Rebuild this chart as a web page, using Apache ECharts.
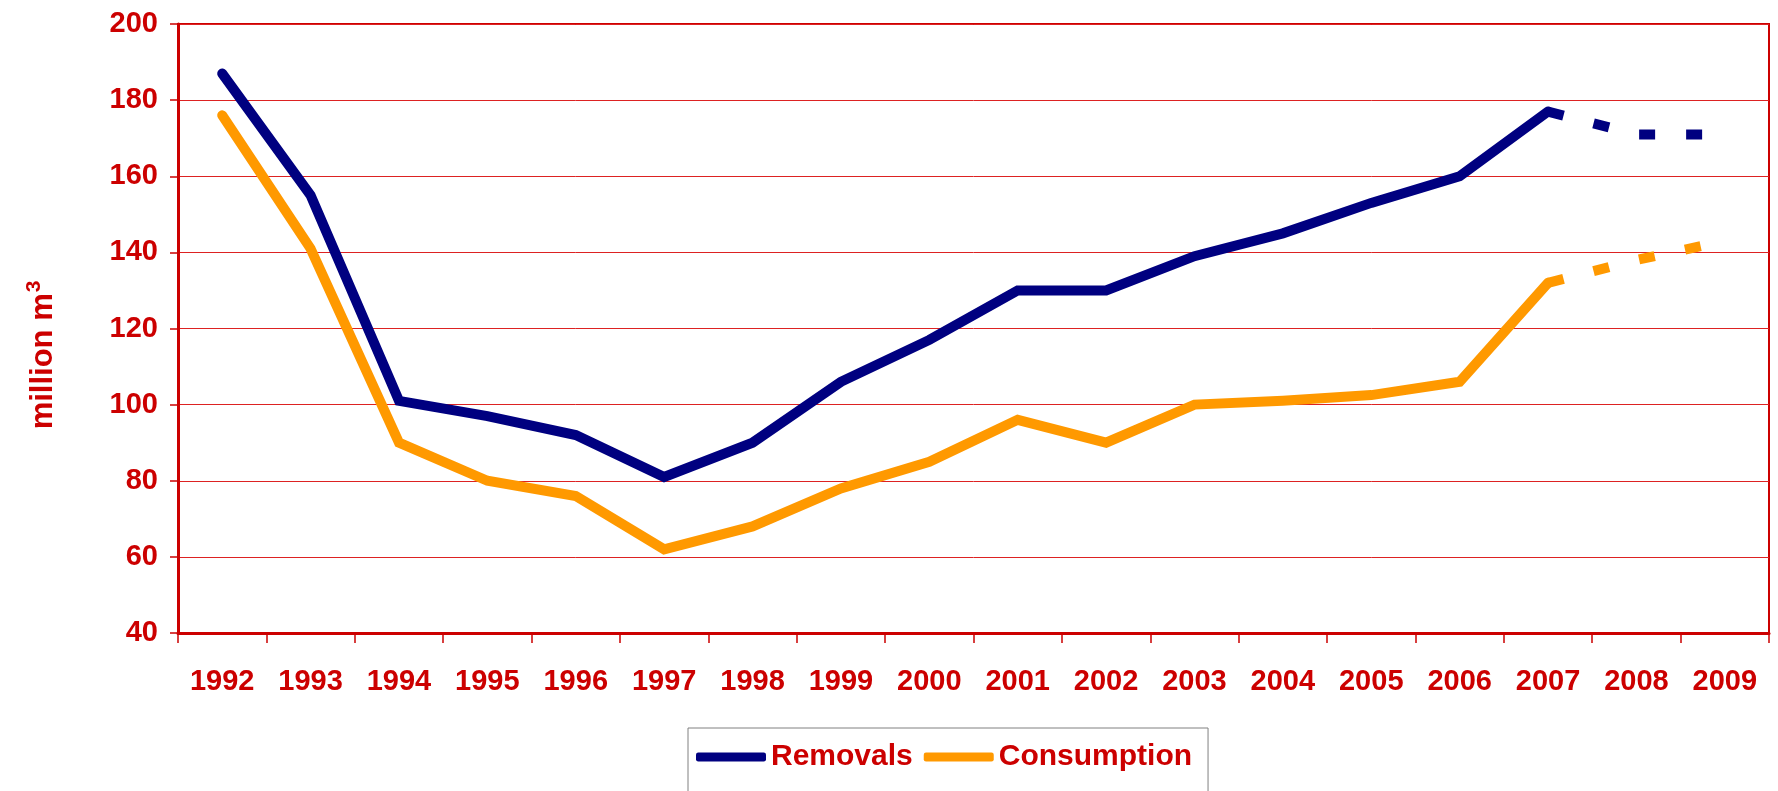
<!DOCTYPE html>
<html><head><meta charset="utf-8">
<script src="https://cdn.jsdelivr.net/npm/echarts@6/dist/echarts.min.js"></script>
<style>html,body{margin:0;padding:0;background:#fff}#c{width:1778px;height:791px}</style>
</head><body><div id="c"></div>
<script>
const years = ['1992','1993','1994','1995','1996','1997','1998','1999','2000','2001','2002','2003','2004','2005','2006','2007','2008','2009'];
const removals = [187,155,101,97,92,81,90,106,117,130,130,139,145,153,160,177,171,171];
const consumption = [176,141,90,80,76,62,68,78,85,96,90,100,101,102.5,106,132,138,143];
const solidUntil = 15; // index of 2007; later values are estimates (dashed)
const yTicks = {min:40, max:200, interval:20};

const solidPart = arr => arr.map((v,i)=> i<=solidUntil ? v : null);
const dashPart = arr => arr.map((v,i)=> i>=solidUntil ? v : null);

const RED = '#CC0000';
const FONT = 'Liberation Sans';
const chart = echarts.init(document.getElementById('c'));
chart.setOption({
  backgroundColor:'#fff',
  animation:false,
  grid:{left:178,right:9,top:24,bottom:158,show:true,borderColor:RED,borderWidth:2,backgroundColor:'transparent'},
  xAxis:{type:'category',data:years,boundaryGap:true,
    axisLine:{lineStyle:{color:RED,width:3}},
    axisTick:{show:true,length:10,lineStyle:{color:RED,width:1.5}},
    axisLabel:{interval:0,color:RED,fontFamily:FONT,fontWeight:'bold',fontSize:29,margin:34}},
  yAxis:{type:'value',min:yTicks.min,max:yTicks.max,interval:yTicks.interval,
    axisLine:{show:true,lineStyle:{color:RED,width:3}},
    axisTick:{show:true,length:8,lineStyle:{color:RED,width:1.5}},
    splitLine:{lineStyle:{color:'#DD2222',width:1}},
    axisLabel:{color:RED,fontFamily:FONT,fontWeight:'bold',fontSize:29,margin:20}},
  legend:{data:['Removals','Consumption'],left:688,top:728,
    borderColor:'#808080',borderWidth:1,padding:[14,16,60,8],
    icon:'roundRect',itemWidth:70,itemHeight:9,itemGap:11,
    textStyle:{color:RED,fontFamily:FONT,fontWeight:'bold',fontSize:30}},
  graphic:[{type:'text',x:41,y:355,rotation:Math.PI/2,
    style:{text:'{a|million m}{b|3}',align:'center',verticalAlign:'middle',
      rich:{a:{fontFamily:FONT,fontWeight:'bold',fontSize:31,fill:RED,verticalAlign:'bottom'},
            b:{fontFamily:FONT,fontWeight:'bold',fontSize:21,fill:RED,verticalAlign:'top',padding:[0,0,14,1]}}}}],
  series:[
    {name:'Removals',type:'line',data:solidPart(removals),symbol:'none',
      itemStyle:{color:'#000080'},lineStyle:{color:'#000080',width:10,cap:'round',join:'miter'},z:3},
    {name:'Consumption',type:'line',data:solidPart(consumption),symbol:'none',
      itemStyle:{color:'#FF9900'},lineStyle:{color:'#FF9900',width:10,cap:'round',join:'miter'},z:2},
    {name:'Removals',type:'line',data:dashPart(removals),symbol:'none',
      itemStyle:{color:'#000080'},lineStyle:{color:'#000080',width:10,type:[16,31],cap:'butt'},z:3},
    {name:'Consumption',type:'line',data:dashPart(consumption),symbol:'none',
      itemStyle:{color:'#FF9900'},lineStyle:{color:'#FF9900',width:10,type:[16,31],cap:'butt'},z:2}
  ]
});
</script></body></html>
